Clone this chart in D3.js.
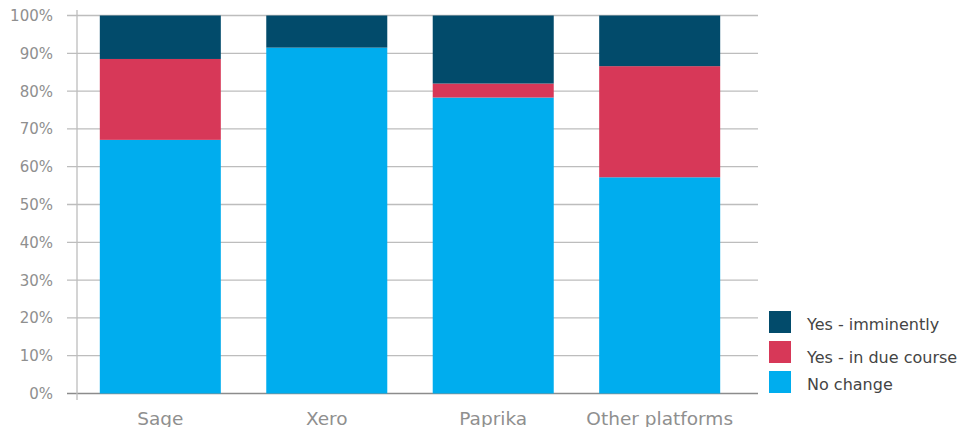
<!DOCTYPE html>
<html>
<head>
<meta charset="utf-8">
<script src="https://cdn.jsdelivr.net/npm/d3@7"></script>
<style>
  body { margin: 0; background: #fff; }
  text { font-family: "DejaVu Sans", sans-serif; }
</style>
</head>
<body>
<script>
/* data (percent) */
const platforms = ['Sage', 'Xero', 'Paprika', 'Other platforms'];
const noChange = [67.1, 91.5, 78.3, 57.2];
const inDueCourse = [21.4, 0, 3.7, 29.4];
const imminently = [11.5, 8.5, 18.0, 13.4];
const yTicks = [0, 10, 20, 30, 40, 50, 60, 70, 80, 90, 100];
const seriesNames = ['No change', 'Yes - in due course', 'Yes - imminently'];
const seriesColors = ['#00adee', '#d73858', '#024b6b'];

const width = 971, height = 427;

const svg = d3.select('body').append('svg')
  .attr('width', width).attr('height', height);

/* scales */
const xScale = d3.scaleBand().domain(platforms)
  .range([77, 743]).paddingInner(0.273).paddingOuter(0.137);
const yScale = d3.scaleLinear().domain([0, 100]).range([393.5, 15.5]);

/* gridlines + left tick marks */
svg.append('g').selectAll('line').data(yTicks).enter().append('line')
  .attr('x1', 67).attr('x2', 758)
  .attr('y1', d => yScale(d)).attr('y2', d => yScale(d))
  .attr('stroke', d => d === 0 ? '#8c8c8c' : '#bdbdbd')
  .attr('stroke-width', 1.3);

/* vertical axis line */
svg.append('line')
  .attr('x1', 77).attr('x2', 77).attr('y1', 10).attr('y2', 400)
  .attr('stroke', '#bdbdbd').attr('stroke-width', 1.3);

/* y tick labels */
svg.append('g').selectAll('text').data(yTicks).enter().append('text')
  .attr('x', 53).attr('y', d => yScale(d) + 5.5)
  .attr('text-anchor', 'end').attr('font-size', 15)
  .attr('fill', '#8f8f8f')
  .text(d => d + '%');

/* stacked bars */
const table = platforms.map((p, i) => ({
  platform: p, 'No change': noChange[i],
  'Yes - in due course': inDueCourse[i], 'Yes - imminently': imminently[i]
}));
const stacked = d3.stack().keys(seriesNames)(table);

svg.append('g').selectAll('g').data(stacked).enter().append('g')
  .attr('fill', (d, i) => seriesColors[i])
  .selectAll('rect').data(d => d).enter().append('rect')
  .attr('x', d => xScale(d.data.platform))
  .attr('width', xScale.bandwidth())
  .attr('y', d => yScale(d[1]))
  .attr('height', d => yScale(d[0]) - yScale(d[1]));

/* x labels */
svg.append('g').selectAll('text').data(platforms).enter().append('text')
  .attr('x', d => xScale(d) + xScale.bandwidth() / 2).attr('y', 425)
  .attr('text-anchor', 'middle').attr('font-size', 18.5)
  .attr('fill', '#8f8f8f')
  .text(d => d);

/* legend (top to bottom: imminently, due course, no change) */
const legendOrder = [2, 1, 0];
const legendY = [311, 341, 371];
const legend = svg.append('g').selectAll('g').data(legendOrder).enter().append('g');
legend.append('rect')
  .attr('x', 769).attr('y', (d, i) => legendY[i])
  .attr('width', 22).attr('height', 22)
  .attr('fill', d => seriesColors[d]);
legend.append('text')
  .attr('x', 807).attr('y', (d, i) => [330, 363, 390][i])
  .attr('font-size', 16).attr('fill', '#444')
  .text(d => seriesNames[d]);
</script>
</body>
</html>
